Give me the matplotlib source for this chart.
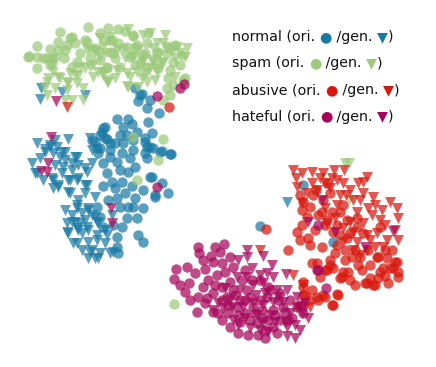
import matplotlib
matplotlib.use("Agg")
import matplotlib.pyplot as plt
import numpy as np

# t-SNE embedding, coordinates (arbitrary units)
normal_ori = [
    (135, 88), (142, 94), (138, 101), (150, 100), (147, 108), (159, 113), (148, 122),
    (117, 119), (128, 119), (132, 124), (123, 127), (105, 127), (102, 132), (152, 133),
    (137, 132), (127, 135), (120, 135), (107, 139), (95, 142), (115, 143), (145, 142),
    (150, 147), (162, 151), (170, 154), (100, 148), (110, 150), (122, 153), (133, 150),
    (145, 153), (130, 158), (110, 157), (98, 153), (103, 163), (117, 162), (135, 167),
    (147, 158), (107, 173), (120, 170), (128, 172), (150, 177), (162, 183), (168, 193),
    (155, 197), (143, 190), (132, 186), (122, 182), (112, 182), (103, 186), (115, 188),
    (125, 193), (135, 198), (117, 198), (108, 200), (128, 207), (143, 208), (133, 207),
    (120, 207), (97, 207), (137, 218), (127, 218), (122, 227), (113, 225), (117, 237),
    (138, 235), (143, 242), (117, 247), (118, 253), (100, 217), (103, 227), (160, 152),
    (171, 154), (152, 177), (155, 195), (140, 95), (103, 128), (100, 135), (105, 138),
    (123, 143), (133, 140), (145, 138), (147, 147), (153, 148), (92, 140), (97, 148),
    (110, 143), (303, 185), (333, 242), (260, 226),
]
normal_gen = [
    (41, 88), (40, 99), (62, 92), (85, 95),
    (37, 143), (45, 149), (55, 140), (68, 139), (90, 138), (92, 150), (32, 163), (37, 173),
    (43, 180), (53, 153), (60, 157), (65, 152), (50, 147), (57, 147), (75, 157), (72, 163),
    (78, 165), (63, 167), (62, 173), (53, 180), (53, 188), (58, 185), (70, 180), (78, 178),
    (85, 168), (92, 163), (87, 185), (68, 192), (78, 200), (95, 197), (65, 210), (72, 215),
    (77, 208), (88, 208), (92, 215), (67, 223), (77, 228), (87, 227), (97, 222), (68, 233),
    (82, 233), (77, 243), (88, 242), (97, 235), (107, 235), (82, 250), (90, 252), (95, 258),
    (100, 253), (105, 243), (110, 253), (80, 223), (72, 222), (50, 145), (40, 158),
    (45, 152), (62, 152), (65, 160), (77, 157), (55, 165), (35, 173), (52, 178), (72, 170),
    (77, 180), (87, 172), (68, 180), (58, 187), (85, 185), (70, 193), (85, 193), (77, 205),
    (82, 213), (88, 210), (75, 222), (85, 220), (95, 217), (98, 223), (105, 230), (67, 232),
    (78, 230), (88, 230), (73, 243), (92, 250), (97, 240), (88, 258), (98, 258), (113, 252),
    (112, 215), (287, 202),
]
spam_ori = [
    (88, 27), (108, 28), (60, 32), (72, 37), (100, 33), (118, 29), (125, 31), (133, 36),
    (37, 46), (29, 56), (37, 57), (43, 58), (50, 49), (58, 42), (67, 45), (75, 43), (80, 53),
    (65, 50), (58, 50), (52, 58), (50, 65), (37, 68), (77, 62), (72, 67), (87, 42), (97, 50),
    (110, 40), (118, 43), (127, 47), (137, 45), (147, 43), (100, 60), (113, 53), (132, 55),
    (143, 55), (157, 53), (167, 53), (173, 62), (180, 65), (170, 70), (168, 78), (173, 85),
    (167, 88), (170, 95), (163, 100), (183, 80), (147, 67), (157, 63), (140, 63), (120, 67),
    (90, 58), (107, 67), (70, 38), (85, 40), (28, 57), (47, 58), (55, 57), (52, 63), (95, 48),
    (105, 40), (112, 40), (133, 35), (148, 33), (110, 52), (123, 48), (135, 47), (115, 58),
    (130, 57), (145, 53), (158, 52), (168, 48), (175, 45), (182, 55), (107, 68), (135, 65),
    (145, 72), (158, 68), (185, 78), (64, 58),
    (133, 137), (163, 139), (158, 160), (137, 180), (174, 304),
]
spam_gen = [
    (100, 38), (110, 37), (128, 29), (143, 35), (150, 33), (165, 35), (177, 47), (185, 57),
    (167, 47), (157, 43), (87, 50), (93, 65), (102, 72), (107, 80), (117, 70), (127, 73),
    (137, 72), (127, 86), (147, 82), (157, 72), (53, 72), (60, 78), (67, 82), (47, 82),
    (55, 88), (67, 90), (70, 73), (78, 75), (83, 88), (83, 100), (47, 95), (65, 100),
    (72, 100), (90, 50), (103, 47), (117, 50), (133, 57), (143, 60), (153, 62), (163, 63),
    (173, 50), (180, 53), (175, 77), (95, 52), (100, 57), (105, 53), (90, 67), (98, 72),
    (103, 75), (108, 82), (48, 78), (58, 77), (75, 75), (68, 83), (77, 83), (45, 87),
    (93, 77), (85, 68), (80, 67), (163, 43), (187, 48), (138, 50), (153, 48), (125, 58),
    (142, 62), (152, 60), (162, 62), (175, 58), (115, 78), (130, 77), (142, 78), (155, 80),
    (128, 87), (138, 87), (107, 82), (150, 68), (345, 163), (349, 163), (349, 200),
]
abusive_ori = [
    (169, 107), (266, 229), (288, 250),
    (327, 183), (313, 195), (303, 202), (323, 200), (330, 193), (343, 205), (340, 212),
    (332, 212), (322, 212), (310, 207), (302, 210), (307, 217), (302, 225), (297, 232),
    (308, 238), (315, 230), (327, 220), (333, 232), (340, 235), (347, 238), (337, 245),
    (345, 250), (335, 253), (322, 247), (352, 257), (360, 257), (368, 250), (377, 257),
    (387, 258), (395, 262), (383, 268), (393, 268), (398, 277), (388, 283), (378, 278),
    (370, 278), (365, 283), (373, 285), (358, 265), (348, 272), (342, 277), (350, 280),
    (333, 268), (325, 270), (330, 260), (312, 263), (320, 277), (312, 290), (317, 297),
    (325, 297), (332, 305), (338, 295), (305, 295), (303, 305), (309, 300), (350, 233),
    (363, 233), (380, 227), (357, 227), (337, 225), (347, 220), (357, 218), (317, 263),
    (330, 265), (327, 270), (343, 272), (340, 278), (370, 265), (378, 257), (397, 262),
    (398, 272), (390, 268), (367, 283), (375, 285), (337, 294), (333, 305), (323, 295),
    (318, 300), (303, 282), (303, 287), (303, 295), (316, 190), (300, 195),
    (318, 215), (325, 225), (345, 260), (355, 250), (362, 270), (380, 272), (385, 250),
    (392, 250), (310, 245), (300, 240), (355, 285), (385, 276),
]
abusive_gen = [
    (67, 107),
    (293, 170), (302, 173), (312, 172), (323, 173), (334, 170), (344, 170), (337, 180),
    (343, 183), (358, 183), (367, 177), (363, 182), (312, 183), (297, 187), (307, 193),
    (317, 190), (350, 190), (340, 195), (363, 193), (373, 197), (353, 200), (337, 205),
    (357, 212), (368, 208), (382, 210), (390, 202), (397, 208), (398, 218), (380, 220),
    (363, 223), (350, 222), (343, 228), (353, 232), (367, 235), (377, 233), (387, 240),
    (398, 240), (383, 247), (375, 247), (357, 242), (343, 242), (335, 218), (325, 208),
    (325, 183), (302, 203), (327, 223), (353, 250), (367, 250), (293, 275), (260, 250),
    (303, 285), (297, 307), (310, 307), (296, 178), (330, 188), (346, 195), (372, 215),
    (320, 178), (332, 178), (360, 200), (375, 205), (385, 225), (395, 230), (360, 255),
    (370, 240),
]
hateful_ori = [
    (157, 96), (180, 88), (184, 84), (157, 187), (318, 225), (318, 270), (326, 288),
    (198, 247), (199, 253), (215, 247), (224, 244), (220, 252), (211, 256), (203, 260),
    (213, 262), (230, 257), (222, 263), (176, 269), (187, 267), (174, 279), (180, 285),
    (189, 283), (195, 273), (205, 269), (225, 272), (233, 267), (217, 275), (203, 287),
    (198, 297), (207, 298), (197, 312), (205, 303), (213, 293), (222, 300), (228, 313),
    (222, 320), (230, 327), (238, 333), (213, 312), (233, 290), (242, 280), (230, 282),
    (247, 290), (240, 300), (237, 307), (245, 313), (250, 320), (257, 323), (263, 318),
    (253, 307), (260, 300), (267, 297), (273, 310), (265, 330), (273, 327), (280, 320),
    (283, 307), (290, 300), (297, 307), (303, 313), (288, 320), (277, 333), (240, 322),
    (250, 297), (227, 297), (222, 287), (252, 280), (260, 280), (280, 293), (268, 287),
    (245, 270), (317, 270),
    (190, 300), (185, 292), (208, 280), (215, 285), (235, 295), (245, 300), (255, 313),
    (262, 310), (268, 320), (275, 315), (285, 312), (292, 318), (300, 305), (278, 300),
    (270, 290), (238, 315), (228, 305), (218, 313), (248, 335), (258, 335), (265, 338),
]
hateful_gen = [
    (56, 101), (51, 137), (48, 163), (41, 171), (47, 172), (111, 208), (112, 223),
    (308, 222), (322, 200), (335, 232), (393, 231), (365, 247),
    (247, 250), (238, 260), (247, 257), (263, 256), (252, 268), (260, 275), (272, 265),
    (267, 273), (273, 277), (286, 274), (247, 277), (253, 285), (263, 283), (265, 293),
    (277, 290), (287, 290), (297, 297), (305, 303), (308, 318), (302, 313), (295, 325),
    (287, 327), (295, 338), (287, 336), (268, 332), (260, 330), (250, 328), (238, 325),
    (233, 320), (223, 308), (213, 310), (218, 303), (232, 307), (243, 307), (253, 303),
    (263, 305), (273, 302), (283, 302), (257, 315), (270, 315), (290, 313), (237, 277),
    (225, 288), (240, 290),
    (256, 295), (278, 297), (262, 322), (285, 322), (300, 330), (275, 322), (245, 318),
    (230, 300),
]

classes = ["normal", "spam", "abusive", "hateful"]
colors = ["#1a7aa6", "#9cc97a", "#d8170d", "#a6065a"]
series = [(normal_ori, normal_gen), (spam_ori, spam_gen),
          (abusive_ori, abusive_gen), (hateful_ori, hateful_gen)]

fig = plt.figure(figsize=(4.36, 3.67), dpi=100)
ax = fig.add_axes([0, 0, 1, 1])

for (ori, gen), c in zip(series, colors):
    o = np.array(ori, dtype=float)
    g = np.array(gen, dtype=float)
    ax.scatter(o[:, 0], o[:, 1], s=56, marker="o", color=c, alpha=0.72, linewidths=0)
    ax.scatter(g[:, 0], g[:, 1], s=62, marker="v", color=c, alpha=0.72, linewidths=0)

ax.set_xlim(0, 436)
ax.set_ylim(367, 0)
ax.axis("off")

# legend built from chained text pieces
fs = 10.3
for i, (name, c) in enumerate(zip(classes, colors)):
    y = 37 + i * 26.5
    t = ax.text(232, y, f"{name} (ori. ", fontsize=fs, va="center", ha="left", color="#111")
    for piece, pc in [("\u25cf", c), (" /gen. ", "#111"), ("\u25bc", c), (")", "#111")]:
        t = ax.annotate(piece, xy=(1, 0), xycoords=t, va="bottom", ha="left",
                        fontsize=fs, color=pc)

fig.savefig("out.png", dpi=100)
